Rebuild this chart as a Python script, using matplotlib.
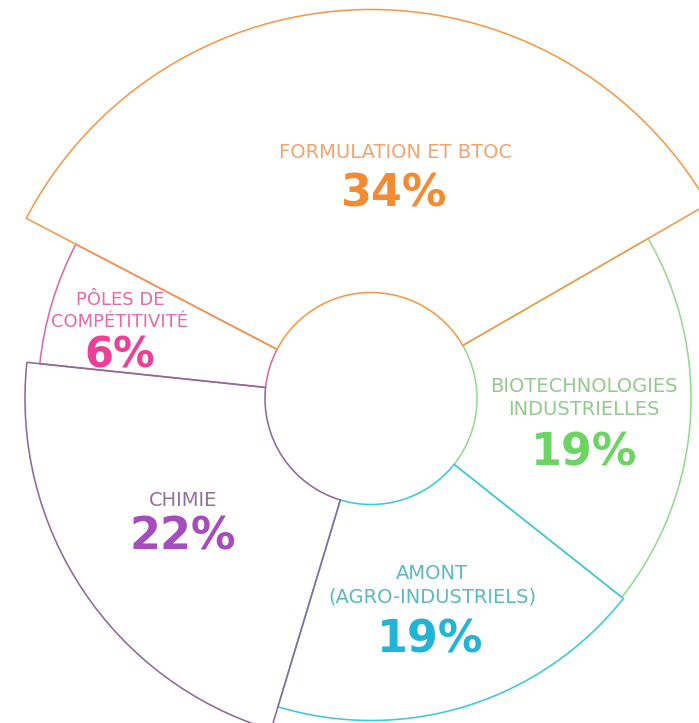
import numpy as np
import matplotlib.pyplot as plt
from matplotlib.patches import Wedge

# parts of the budget, in percent, counter-clockwise from the right
categories = ['FORMULATION ET BTOC', 'PÔLES DE\nCOMPÉTITIVITÉ', 'CHIMIE',
              'AMONT\n(AGRO-INDUSTRIELS)', 'BIOTECHNOLOGIES\nINDUSTRIELLES']
shares = [34, 6, 22, 19, 19]

# look of each ring piece
outer_radius = [389, 333, 346, 322, 320]
inner_radius = 106
start_angle = 30
line_colors = ['#F39A4A', '#D86AA6', '#8C6A9C', '#3DC8DC', '#96D891']
name_colors = ['#F0A470', '#E56AA5', '#8E7099', '#5AB9C1', '#93C98F']
value_colors = ['#F38B33', '#EE3F98', '#A54DBF', '#22B4D6', '#6BD463']

# text placement (pixels from top-left of the picture)
center_px = (371, 398.5)
name_pos = [(396, 152), (120, 311), (183, 501), (432, 585), (584, 398)]
value_pos = [(393, 194), (120, 355), (183, 537), (430, 640), (584, 453)]
name_size = [14, 13, 14, 14, 14]
value_size = [32, 30, 32, 32, 32]

W, H = 699, 723
fig = plt.figure(figsize=(W / 100, H / 100), dpi=100)
ax = fig.add_axes([0, 0, 1, 1])
ax.set_xlim(-center_px[0], W - center_px[0])
ax.set_ylim(center_px[1] - H, center_px[1])
ax.set_aspect('equal')
ax.axis('off')


def to_data(p):
    return p[0] - center_px[0], center_px[1] - p[1]


angles = start_angle + np.concatenate([[0], np.cumsum(shares)]) * 3.6
order = np.argsort(outer_radius)
for rank, i in enumerate(order):
    w = Wedge((0, 0), outer_radius[i], angles[i], angles[i + 1],
              width=outer_radius[i] - inner_radius, facecolor='none',
              edgecolor=line_colors[i], linewidth=1.15, zorder=2 + rank)
    ax.add_patch(w)

for i, name in enumerate(categories):
    x, y = to_data(name_pos[i])
    ax.text(x, y, name, ha='center', va='center', fontsize=name_size[i],
            color=name_colors[i], family='DejaVu Sans', linespacing=1.33,
            zorder=10)
    x, y = to_data(value_pos[i])
    ax.text(x, y, f'{shares[i]}%', ha='center', va='center',
            fontsize=value_size[i], fontweight='bold', color=value_colors[i],
            family='DejaVu Sans', zorder=10)

fig.savefig('out.png', dpi=100, facecolor='white')
